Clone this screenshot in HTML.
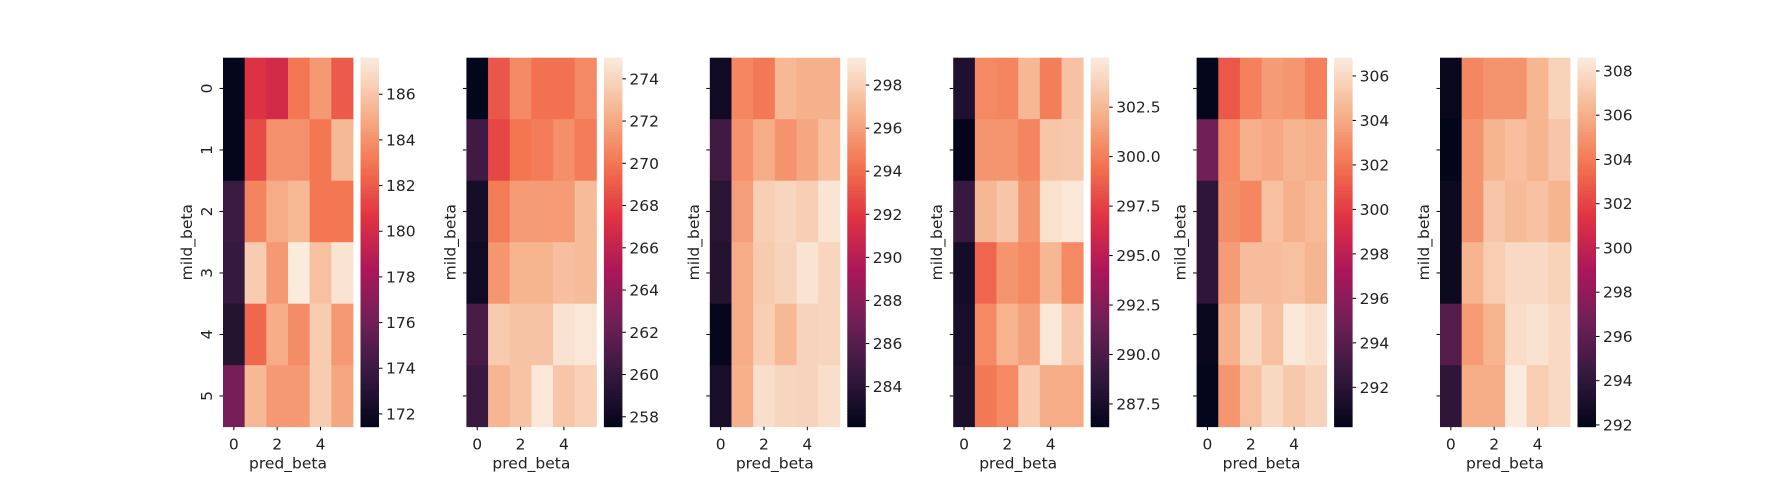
<!DOCTYPE html>
<html><head><meta charset="utf-8">
<style>
html,body{margin:0;padding:0;background:#fff;}
svg{display:block;font-family:"DejaVu Sans","Liberation Sans",sans-serif;}
</style></head>
<body>
<svg id="chart" width="1780" height="480" viewBox="0 0 1780 480" xmlns="http://www.w3.org/2000/svg"></svg>
<script>
// Data: six heatmaps (rows = mild_beta 0..5, cols = pred_beta 0..5)
const rowCats = [0,1,2,3,4,5];
const colCats = [0,1,2,3,4,5];
const xTickLabels = [0,2,4];
const panel1 = [
 [171.5,180.5,180,183,184.3,182],
 [171.5,181.5,184,184,183,185.5],
 [174,183.5,185,185.5,183,183],
 [173.8,186.3,184.3,187.6,185.8,187.3],
 [173,182.5,185,183.8,186.3,184.3],
 [176.3,185.5,184.3,184.3,186.3,184.8]];
const panel2 = [
 [257.6,268.8,270.8,269.8,269.8,270.8],
 [260.5,268.2,270,270.3,271,270.3],
 [258.5,270.2,271.5,271.5,271.5,272.8],
 [258.2,271.3,272.5,272.5,273,272.8],
 [260.8,273.5,273.2,273.2,274.6,274.8],
 [260.2,272.6,273.2,274.8,273.3,273.8]];
const panel3 = [
 [282.8,295,294.5,297,296.7,296.7],
 [285,295.5,296.5,295.5,296.3,297.3],
 [284,296,298,298.3,298,299],
 [283.7,296.5,297.8,298.2,298.9,298.3],
 [282.3,296.5,298,297,298.2,298.3],
 [283.2,296.7,298.7,298.3,298.2,298.7]];
const panel4 = [
 [287.8,300.5,300.3,302.5,300,303],
 [286.4,301,301,300.3,303.2,303.3],
 [289,302.5,303.2,301,304.5,304.8],
 [287.3,299,301,300.5,302.5,300.5],
 [287.5,300.5,302.3,301.5,304.8,303.3],
 [287.7,299.8,300.5,303.5,302,302]];
const panel5 = [
 [290.3,301,302.5,303.5,303.3,302.5],
 [295,302.8,304.3,304,304.5,304.3],
 [292.3,303,302.7,305,304.3,304.7],
 [292.3,303.5,304.8,304.8,305,304.5],
 [290.5,304.3,306,305,306.7,306.3],
 [290.3,303.3,305,306,305.3,305.8]];
const panel6 = [
 [292.2,304.5,305,305,306.3,307.5],
 [291.9,305,306.2,306.7,306.2,307],
 [292.4,305,307,306.5,306.8,306.2],
 [292.4,306.2,307.3,307.8,307.8,307.5],
 [295.5,305.3,306.2,308,308.2,307.8],
 [294,306,306,308.6,307.3,307.8]];
const panels = [panel1,panel2,panel3,panel4,panel5,panel6];
const cbarMin = [171.44,257.53,282.14,286.35,290.23,291.92];
const cbarMax = [187.6,275.0,299.27,305.0,306.82,308.6];
const cbarTicks = [
 [172,174,176,178,180,182,184,186],
 [258,260,262,264,266,268,270,272,274],
 [284,286,288,290,292,294,296,298],
 [287.5,290,292.5,295,297.5,300,302.5],
 [292,294,296,298,300,302,304,306],
 [292,294,296,298,300,302,304,306,308]];
const cbarDecimals = [0,0,0,1,0,0];

// rocket colormap approximation
const stops = [[0,[3,5,26]],[0.143,[53,25,62]],[0.286,[112,31,87]],[0.429,[173,23,89]],
 [0.571,[225,51,66]],[0.714,[243,118,81]],[0.857,[246,180,143]],[1,[250,235,221]]];
function rocket(t){
  t=Math.max(0,Math.min(1,t));
  for(let i=1;i<stops.length;i++){
    if(t<=stops[i][0]){
      const a=stops[i-1],b=stops[i],f=(t-a[0])/(b[0]-a[0]);
      const c=a[1].map((v,k)=>Math.round(v+(b[1][k]-v)*f));
      return `rgb(${c[0]},${c[1]},${c[2]})`;
    }
  }
  return 'rgb(250,235,221)';
}
const NS="http://www.w3.org/2000/svg";
const svg=document.getElementById('chart');
function mk(tag,attrs,parent){const e=document.createElementNS(NS,tag);for(const k in attrs)e.setAttribute(k,attrs[k]);(parent||svg).appendChild(e);return e;}

const topY=57.7,botY=426.7,hmW=130,step=243.4,left0=223;
const cellW=hmW/colCats.length, cellH=(botY-topY)/rowCats.length;
panels.forEach((data,p)=>{
  const L=left0+p*step;
  const g=mk('g',{});
  
  
  const xScale=c=>L+c*cellW;
  const yScale=r=>topY+r*cellH;
  const mn=cbarMin[p],mx=cbarMax[p];
  rowCats.forEach((r,ri)=>colCats.forEach((c,ci)=>{
    const rect=mk('rect',{x:xScale(ci),y:yScale(ri),width:cellW+0.4,height:cellH+0.4,fill:rocket((data[ri][ci]-mn)/(mx-mn))},g);
    
    
  }));
  rowCats.forEach((r,ri)=>{
    const y=yScale(ri)+cellH/2;
    mk('line',{x1:L-3.5,x2:L,y1:y,y2:y,stroke:'#000','stroke-width':1},g);
    if(p===0){
      const t=mk('text',{x:0,y:0,transform:`translate(${L-11},${y}) rotate(-90)`,'text-anchor':'middle','font-size':15.5,fill:'#222'},g);
      t.textContent=r;
      
      
    }
  });
  xTickLabels.forEach(v=>{
    const x=xScale(colCats.indexOf(v))+cellW/2;
    mk('line',{x1:x,x2:x,y1:botY,y2:botY+3.5,stroke:'#000','stroke-width':1},g);
    const t=mk('text',{x:x,y:449.5,'text-anchor':'middle','font-size':15.5,fill:'#222'},g);
    t.textContent=v;
    
    
  });
  const xl=mk('text',{x:L+hmW/2,y:468.5,'text-anchor':'middle','font-size':15.5,fill:'#222'},g);
  xl.textContent='pred_beta';
  
  
  const ylx=p===0?L-31:L-11;
  const yl=mk('text',{x:0,y:0,transform:`translate(${ylx},${(topY+botY)/2}) rotate(-90)`,'text-anchor':'middle','font-size':15.5,fill:'#222'},g);
  yl.textContent='mild_beta';
  
  
  const cx=L+137.5,cw=18.5,N=120;
  for(let i=0;i<N;i++){
    const y0=botY-(i+1)*(botY-topY)/N;
    const s=mk('rect',{x:cx,y:y0,width:cw,height:(botY-topY)/N+0.5,fill:rocket((i+0.5)/N)},g);
    
    
  }
  const cScale=v=>botY-(v-mn)/(mx-mn)*(botY-topY);
  cbarTicks[p].forEach(v=>{
    const y=cScale(v);
    mk('line',{x1:cx+cw,x2:cx+cw+3.5,y1:y,y2:y,stroke:'#000','stroke-width':1},g);
    const t=mk('text',{x:cx+cw+7,y:y+5.5,'font-size':15.5,fill:'#222'},g);
    t.textContent=v.toFixed(cbarDecimals[p]);
    
    
  });
});
</script>
</body></html>
